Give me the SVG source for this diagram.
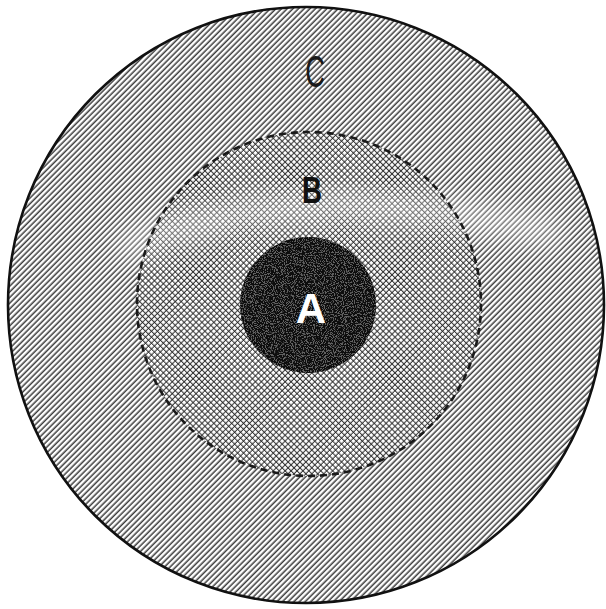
<svg xmlns="http://www.w3.org/2000/svg" width="606" height="609" viewBox="0 0 606 609">
  <style>
    .label { font-family: "Liberation Sans", "DejaVu Sans", sans-serif; text-anchor: middle; }
  </style>
  <defs>
    <pattern id="hatch" patternUnits="userSpaceOnUse" width="4" height="4" patternTransform="rotate(45)">
      <rect width="4" height="4" fill="#ffffff"/>
      <line x1="1.2" y1="0" x2="1.2" y2="4" stroke="#1a1a1a" stroke-width="1.3"/>
    </pattern>
    <pattern id="cross" patternUnits="userSpaceOnUse" width="4.2" height="4.2" patternTransform="rotate(45)">
      <rect width="4.2" height="4.2" fill="#ffffff"/>
      <line x1="1.1" y1="0" x2="1.1" y2="4.2" stroke="#222" stroke-width="0.95"/>
      <line x1="0" y1="1.1" x2="4.2" y2="1.1" stroke="#222" stroke-width="0.95"/>
    </pattern>
    <filter id="speckle" x="0" y="0" width="1" height="1">
      <feTurbulence type="fractalNoise" baseFrequency="0.9" numOctaves="2" seed="3" result="n"/>
      <feColorMatrix in="n" type="matrix" values="0 0 0 0 1  0 0 0 0 1  0 0 0 0 1  0 0 0 -10 5.0"/>
    </filter>
    <filter id="blur" x="-20%" y="-50%" width="140%" height="200%">
      <feGaussianBlur stdDeviation="12"/>
    </filter>
    <clipPath id="clipC"><circle cx="306" cy="305" r="298"/></clipPath>
    <clipPath id="clipA"><circle cx="308" cy="305" r="68"/></clipPath>
  </defs>

  <rect width="606" height="609" fill="#ffffff"/>

  <g id="C">
    <circle cx="306" cy="305" r="298" fill="url(#hatch)" stroke="#111" stroke-width="2.6"/>
    <text class="label" x="0" y="0" font-size="44" fill="#1a1a1a" transform="translate(315 87) scale(0.62 1)">C</text>
  </g>

  <g id="B">
    <circle cx="309" cy="304" r="172" fill="url(#cross)"/>
    <g id="glare" clip-path="url(#clipC)">
      <path d="M120 250 Q300 170 560 235" fill="none" stroke="#ffffff" stroke-width="30" opacity="0.4" filter="url(#blur)"/>
    </g>
    <circle cx="309" cy="304" r="172" fill="none" stroke="#1a1a1a" stroke-width="2.6" stroke-dasharray="7 5"/>
    <text class="label" x="0" y="0" font-size="37" font-weight="bold" fill="#111" transform="translate(312 203) scale(0.75 1)">B</text>
  </g>

  <g id="A">
    <circle cx="308" cy="305" r="68" fill="#0d0d0d"/>
    <g clip-path="url(#clipA)">
      <rect x="240" y="237" width="136" height="136" filter="url(#speckle)" opacity="0.35"/>
    </g>
    <text class="label" x="311" y="323" font-size="42" font-weight="bold" fill="#ffffff">A</text>
  </g>
</svg>
